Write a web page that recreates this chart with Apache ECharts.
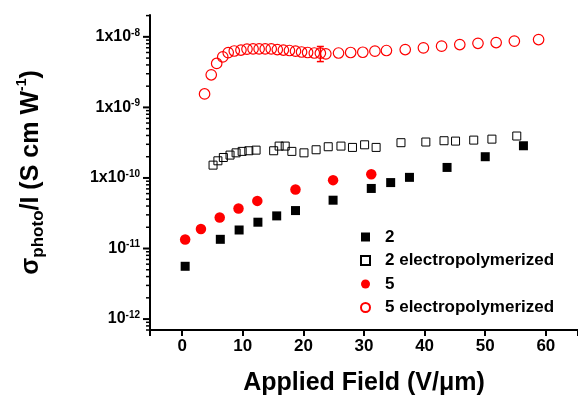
<!DOCTYPE html>
<html>
<head>
<meta charset="utf-8">
<script src="https://cdn.jsdelivr.net/npm/echarts@6/dist/echarts.min.js"></script>
<style>
  html, body { margin: 0; padding: 0; background: #fff; }
  #chart { width: 578px; height: 398px; }
</style>
</head>
<body>
<div id="chart"></div>
<script>
// values: applied field (V/um) and sigma_photo/I (S cm W^-1)
const field2 = [0.5, 6.3, 9.4, 12.5, 15.6, 18.7, 24.9, 31.2, 34.4, 37.5, 43.7, 50.0, 56.3];
const sigma2 = [5.6e-12, 1.35e-11, 1.83e-11, 2.36e-11, 2.9e-11, 3.45e-11, 4.84e-11, 7.1e-11, 8.6e-11, 1.02e-10, 1.41e-10, 2.0e-10, 2.86e-10];

const field2e = [5.1, 5.9, 6.8, 7.9, 8.9, 9.9, 11.0, 12.2, 15.1, 16.0, 17.0, 18.1, 20.1, 22.1, 24.1, 26.2, 28.1, 30.1, 32.0, 36.1, 40.2, 43.2, 45.1, 48.1, 51.1, 55.2];
const sigma2e = [1.52e-10, 1.75e-10, 1.95e-10, 2.11e-10, 2.27e-10, 2.38e-10, 2.43e-10, 2.48e-10, 2.43e-10, 2.83e-10, 2.83e-10, 2.38e-10, 2.27e-10, 2.51e-10, 2.77e-10, 2.83e-10, 2.71e-10, 2.95e-10, 2.71e-10, 3.16e-10, 3.23e-10, 3.37e-10, 3.33e-10, 3.44e-10, 3.55e-10, 3.93e-10];

const field5 = [0.5, 3.1, 6.2, 9.3, 12.4, 18.7, 24.9, 31.2];
const sigma5 = [1.34e-11, 1.89e-11, 2.75e-11, 3.69e-11, 4.73e-11, 6.87e-11, 9.31e-11, 1.13e-10];

const field5e = [3.7, 4.8, 5.7, 6.7, 7.6, 8.6, 9.7, 10.7, 11.7, 12.7, 13.7, 14.7, 15.7, 16.7, 17.7, 18.7, 19.7, 20.7, 21.8, 22.8, 23.7, 25.8, 27.8, 29.8, 31.8, 33.7, 36.8, 39.8, 42.8, 45.8, 48.8, 51.8, 54.8, 58.8];
const sigma5e = [1.55e-9, 2.9e-9, 4.2e-9, 5.2e-9, 5.98e-9, 6.3e-9, 6.5e-9, 6.7e-9, 6.75e-9, 6.75e-9, 6.75e-9, 6.75e-9, 6.6e-9, 6.5e-9, 6.4e-9, 6.27e-9, 6.1e-9, 6.0e-9, 5.9e-9, 5.86e-9, 5.74e-9, 5.9e-9, 6.0e-9, 6.05e-9, 6.27e-9, 6.4e-9, 6.6e-9, 6.98e-9, 7.38e-9, 7.78e-9, 8.1e-9, 8.3e-9, 8.7e-9, 9.15e-9];

// single error bar on the 5 electropolymerized curve
const errField = [22.8];
const errLow = [4.46e-9];
const errHigh = [7.3e-9];

const seriesNames = ['2', '2 electropolymerized', '5', '5 electropolymerized'];

const xMin = -5.3, xMax = 65.3;
const yMin = 7e-13, yMax = 2.04e-8;

const FONT = 'Liberation Sans';

// log ticks for the y axis (majors at decades, minors 2..9)
const yTicks = [];
for (let e = -13; e <= -8; e++) {
  for (let m = 1; m <= 9; m++) {
    const v = m * Math.pow(10, e);
    if (v >= yMin && v <= yMax) yTicks.push([xMin, v, m === 1 ? 1 : 0]);
  }
}

const zip = (xs, ys) => xs.map((x, i) => [x, ys[i]]);

let chartDom = document.getElementById('chart');
let chart = echarts.init(chartDom);

let option = {
  animation: false,
  backgroundColor: '#fff',
  grid: { left: 150, right: 0, top: 15, bottom: 68, containLabel: false, outerBoundsMode: 'none' },
  legend: {
    orient: 'vertical',
    left: 355,
    top: 222,
    itemWidth: 9,
    itemHeight: 9,
    itemGap: 3.5,
    data: seriesNames,
    textStyle: {
      fontFamily: FONT, fontWeight: 'bold', fontSize: 17, color: '#000',
      lineHeight: 20, padding: [0, 0, 0, 10]
    }
  },
  xAxis: {
    type: 'value',
    min: xMin,
    max: xMax,
    splitLine: { show: false },
    axisLine: { onZero: false, lineStyle: { color: '#000', width: 2 } },
    axisTick: { inside: false, length: 6, lineStyle: { color: '#000', width: 2 } },
    axisLabel: {
      fontFamily: FONT, fontWeight: 'bold', fontSize: 17, color: '#000', margin: 8,
      formatter: v => (Math.abs(v % 10) < 1e-9 ? String(v) : '')
    },
    name: 'Applied Field (V/\u03bcm)',
    nameLocation: 'middle',
    nameGap: 41,
    nameTextStyle: { fontFamily: FONT, fontWeight: 'bold', fontSize: 25, color: '#000' }
  },
  yAxis: {
    type: 'log',
    min: yMin,
    max: yMax,
    splitLine: { show: false },
    axisLine: { onZero: false, lineStyle: { color: '#000', width: 2 } },
    axisTick: { show: false },
    axisLabel: {
      fontFamily: FONT, fontWeight: 'bold', fontSize: 16, color: '#000', margin: 10,
      lineHeight: 18,
      formatter: v => {
        const l = Math.log10(v);
        const e = Math.round(l);
        if (Math.abs(l - e) > 1e-6) return '';
        return (e >= -10 ? '1x10' : '10') + '{sup|' + e + '}';
      },
      rich: {
        sup: { fontFamily: FONT, fontWeight: 'bold', fontSize: 10, color: '#000', verticalAlign: 'top', lineHeight: 10 }
      }
    },
    name: '\u03c3{sub|photo}/I (S cm W{sup|-1})',
    nameLocation: 'middle',
    nameRotate: 90,
    nameGap: 103,
    nameTextStyle: {
      fontFamily: FONT, fontWeight: 'bold', fontSize: 25, color: '#000', lineHeight: 32,
      rich: {
        sub: { fontFamily: FONT, fontWeight: 'bold', fontSize: 17, color: '#000', verticalAlign: 'bottom', lineHeight: 17 },
        sup: { fontFamily: FONT, fontWeight: 'bold', fontSize: 14, color: '#000', verticalAlign: 'top', lineHeight: 14 }
      }
    }
  },
  series: [
    {
      name: '2',
      type: 'scatter',
      symbol: 'rect',
      symbolSize: 9,
      itemStyle: { color: '#000', opacity: 1 },
      data: zip(field2, sigma2)
    },
    {
      name: '2 electropolymerized',
      type: 'scatter',
      symbol: 'rect',
      symbolSize: 8,
      itemStyle: { color: 'rgba(255,255,255,0)', borderColor: '#000', borderWidth: 1, opacity: 1 },
      data: zip(field2e, sigma2e)
    },
    {
      name: '5',
      type: 'scatter',
      symbol: 'circle',
      symbolSize: 10.5,
      itemStyle: { color: '#ff0000', opacity: 1 },
      data: zip(field5, sigma5)
    },
    {
      name: '5 electropolymerized',
      type: 'scatter',
      symbol: 'circle',
      symbolSize: 10.5,
      itemStyle: { color: 'rgba(255,255,255,0)', borderColor: '#ff0000', borderWidth: 1.2, opacity: 1 },
      data: zip(field5e, sigma5e)
    },
    {
      name: 'error bar',
      type: 'custom',
      silent: true,
      data: errField.map((x, i) => [x, errLow[i], errHigh[i]]),
      renderItem: (params, api) => {
        const lo = api.coord([api.value(0), api.value(1)]);
        const hi = api.coord([api.value(0), api.value(2)]);
        const cap = 3.5;
        const style = { stroke: '#ff0000', lineWidth: 1.5 };
        return {
          type: 'group',
          children: [
            { type: 'line', shape: { x1: lo[0], y1: lo[1], x2: hi[0], y2: hi[1] }, style },
            { type: 'line', shape: { x1: lo[0] - cap, y1: lo[1], x2: lo[0] + cap, y2: lo[1] }, style },
            { type: 'line', shape: { x1: hi[0] - cap, y1: hi[1], x2: hi[0] + cap, y2: hi[1] }, style }
          ]
        };
      }
    },
    {
      name: 'y ticks',
      type: 'custom',
      silent: true,
      clip: false,
      data: yTicks,
      renderItem: (params, api) => {
        const p = api.coord([api.value(0), api.value(1)]);
        const len = api.value(2) ? 7 : 4;
        return {
          type: 'line',
          shape: { x1: p[0] - len, y1: p[1], x2: p[0], y2: p[1] },
          style: { stroke: '#000', lineWidth: api.value(2) ? 2 : 1.5 }
        };
      }
    }
  ]
};

chart.setOption(option);
</script>
</body>
</html>
